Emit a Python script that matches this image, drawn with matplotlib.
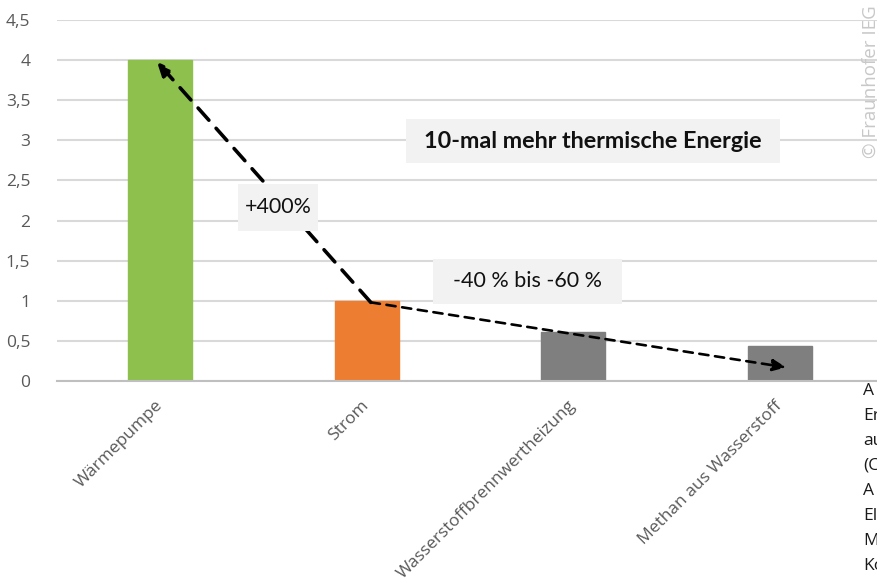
import matplotlib
matplotlib.use("Agg")
import matplotlib.pyplot as plt
from matplotlib.patches import Rectangle

# Values (thermal energy per unit of electricity)
categories = ["Wärmepumpe", "Strom", "Wasserstoffbrennwertheizung", "Methan aus Wasserstoff"]
values = [4.0, 1.0, 0.61, 0.44]
bar_colors = ["#8DC04D", "#ED7D31", "#7F7F7F", "#7F7F7F"]
y_ticks = [0, 0.5, 1, 1.5, 2, 2.5, 3, 3.5, 4, 4.5]
y_tick_labels = ["0", "0,5", "1", "1,5", "2", "2,5", "3", "3,5", "4", "4,5"]

label_main = "10-mal mehr thermische Energie"
label_up = "+400%"
label_down = "-40 % bis -60 %"
side_text = ["A", "Er", "au", "(C", "A", "El", "M", "Ko"]
credit = "© Fraunhofer IEG"

fig = plt.figure(figsize=(8.77, 5.82), dpi=100)
ax = fig.add_axes([56.7 / 877, 201 / 582, 826.6 / 877, 361 / 582])

x = list(range(len(categories)))
ax.bar(x, values, width=0.31, color=bar_colors, edgecolor=bar_colors,
       linewidth=1, zorder=2)

ax.set_xlim(-0.5, 3.5)
ax.set_ylim(0, 4.5)
ax.set_yticks(y_ticks)
ax.set_yticklabels(y_tick_labels)
ax.set_xticks(x)
ax.set_xticklabels(categories, rotation=45, ha="right", va="center",
                   rotation_mode="anchor")

ax.yaxis.grid(True, color="#D9D9D9", linewidth=1.5, zorder=0)
ax.set_axisbelow(True)
for side in ["left", "right", "top"]:
    ax.spines[side].set_visible(False)
ax.spines["bottom"].set_color("#BFBFBF")
ax.spines["bottom"].set_linewidth(1.5)
ax.tick_params(axis="both", length=0, colors="#595959")
ax.tick_params(axis="y", pad=19, labelsize=12.5)
ax.tick_params(axis="x", pad=16, labelsize=12.5)
for lbl in ax.get_xticklabels() + ax.get_yticklabels():
    lbl.set_fontfamily("Open Sans")
    lbl.set_color("#595959")

# Arrows
ax.annotate("", xy=(-0.015, 3.98), xytext=(1.02, 0.98),
            arrowprops=dict(arrowstyle="-|>,head_length=0.8,head_width=0.35",
                            color="black", lw=2.6, linestyle=(0, (4.5, 3)),
                            shrinkA=0, shrinkB=0),
            zorder=3)
ax.annotate("", xy=(3.03, 0.17), xytext=(1.02, 0.98),
            arrowprops=dict(arrowstyle="-|>,head_length=0.8,head_width=0.35",
                            color="black", lw=1.9, linestyle=(0, (3.5, 2.5)),
                            shrinkA=0, shrinkB=0),
            zorder=3)

# Label boxes
def label_box(x0, x1, y0, y1, text, **kw):
    ax.add_patch(Rectangle((x0, y0), x1 - x0, y1 - y0, facecolor="#F2F2F2",
                           edgecolor="none", zorder=4))
    ax.text((x0 + x1) / 2, (y0 + y1) / 2, text, ha="center", va="center",
            zorder=5, family="Lato", color="#111111", **kw)

label_box(1.190, 3.0, 2.717, 3.266, label_main, fontsize=16.8, fontweight="bold")
label_box(0.377, 0.764, 1.870, 2.456, label_up, fontsize=15.4)
label_box(1.321, 2.235, 0.96, 1.521, label_down, fontsize=15.5)

# Caption text running in from the right edge
for i, t in enumerate(side_text):
    fig.text(863 / 877, 1 - (391 + 25 * i) / 582, t, ha="left", va="center",
             fontsize=12.5, family="Open Sans", color="#1a1a1a")

fig.text(871 / 877, 1 - 158 / 582, credit, rotation=90, ha="center", va="bottom",
         fontsize=13.5, family="Open Sans", color="#C8C8C8")

fig.savefig("out.png", dpi=100)
